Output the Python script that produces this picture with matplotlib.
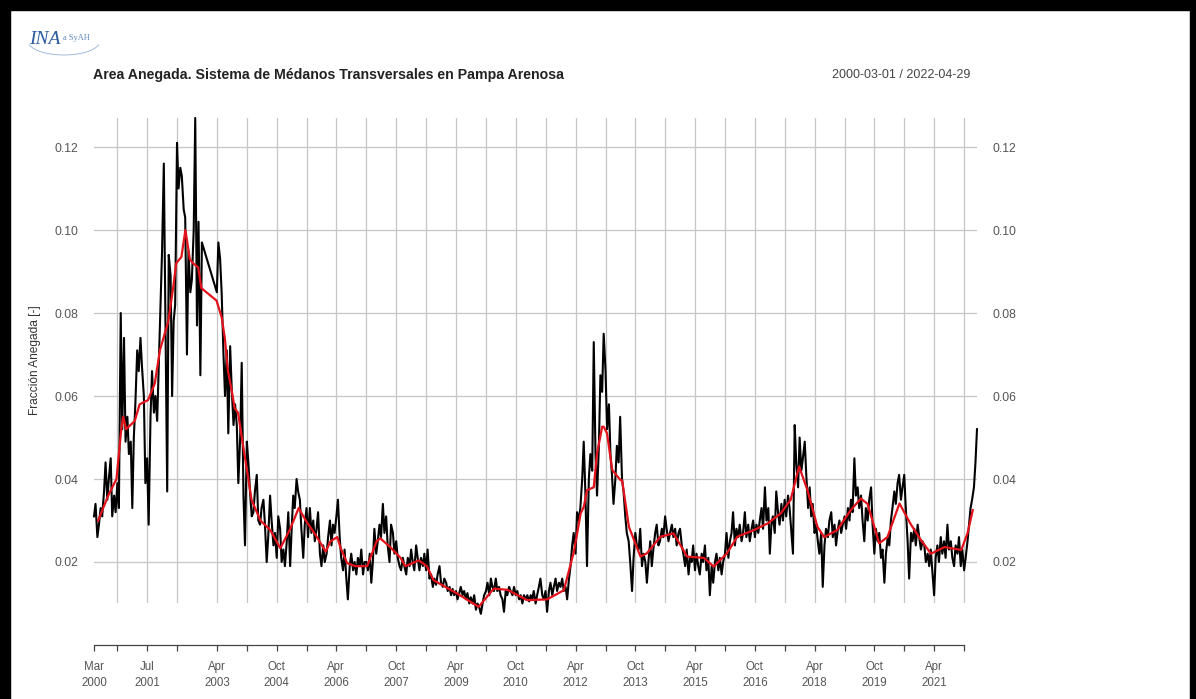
import numpy as np
import pandas as pd
import matplotlib
matplotlib.use('Agg')
import matplotlib.pyplot as plt
import matplotlib.dates as mdates
from matplotlib.patches import Rectangle, Arc

plt.rcParams['font.family'] = ['Liberation Sans', 'DejaVu Sans']

nan = np.nan

# fracción anegada, valores quincenales (1 y 15 de cada mes)
frac_2000 = [0.031, 0.034, 0.026, 0.029, 0.033, 0.031, 0.037, 0.044, 0.035, 0.040,
             0.045, 0.031, 0.036, 0.032, 0.039, 0.033, 0.080, 0.052, 0.074, 0.049]
frac_2001 = [0.055, 0.046, 0.049, 0.033, 0.050, 0.058, 0.071, 0.066, 0.074, 0.067, 0.060, 0.039,
             0.045, 0.029, 0.055, 0.066, 0.056, 0.060, 0.054, 0.067, 0.083, 0.095, 0.116, 0.081]
frac_2002 = [0.037, 0.094, 0.089, 0.060, 0.078, 0.082, 0.121, 0.110, 0.115, 0.113, 0.105, 0.103,
             0.070, 0.095, 0.085, 0.088, 0.100, 0.127, 0.077, 0.102, 0.065, 0.097, nan, nan]
frac_2003 = [nan, nan, nan, nan, nan, nan, 0.085, 0.097, 0.093, 0.085, 0.070, 0.060,
             0.071, 0.051, 0.072, 0.062, 0.053, 0.058, 0.053, 0.039, 0.050, 0.068, 0.036, 0.024]
frac_2004 = [0.049, 0.044, 0.036, 0.031, 0.032, 0.037, 0.041, 0.030, 0.029, 0.033, 0.035, 0.029,
             0.020, 0.026, 0.036, 0.030, 0.024, 0.027, 0.021, 0.031, 0.028, 0.020, 0.023, 0.019]
frac_2005 = [0.025, 0.032, 0.019, 0.028, 0.036, 0.033, 0.040, 0.037, 0.035, 0.028, 0.021, 0.029,
             0.033, 0.026, 0.033, 0.027, 0.030, 0.025, 0.028, 0.032, 0.022, 0.019, 0.024, 0.020]
frac_2006 = [0.022, 0.026, 0.030, 0.024, 0.029, 0.027, 0.031, 0.035, 0.026, 0.021, 0.018, 0.023,
             0.016, 0.011, 0.019, 0.022, 0.018, 0.020, 0.017, 0.021, 0.019, 0.023, 0.017, 0.020]
frac_2007 = [0.020, 0.018, 0.022, 0.015, 0.020, 0.028, 0.022, 0.025, 0.029, 0.026, 0.034, 0.027,
             0.031, 0.024, 0.020, 0.029, 0.027, 0.022, 0.025, 0.021, 0.019, 0.018, 0.021, 0.019]
frac_2008 = [0.017, 0.021, 0.019, 0.023, 0.020, 0.018, 0.024, 0.021, 0.018, 0.021, 0.019, 0.022,
             0.018, 0.023, 0.016, 0.017, 0.014, 0.016, 0.0145, 0.017, 0.019, 0.015, 0.014, 0.016]
frac_2009 = [0.015, 0.013, 0.014, 0.012, 0.0135, 0.012, 0.013, 0.011, 0.0125, 0.014, 0.012, 0.013,
             0.011, 0.0125, 0.010, 0.0115, 0.010, 0.012, 0.0085, 0.010, 0.009, 0.0075, 0.010, 0.012]
frac_2010 = [0.013, 0.015, 0.012, 0.016, 0.014, 0.013, 0.016, 0.013, 0.014, 0.012, 0.011, 0.008,
             0.013, 0.012, 0.014, 0.013, 0.012, 0.014, 0.012, 0.013, 0.011, 0.012, 0.010, 0.012]
frac_2011 = [0.011, 0.012, 0.0105, 0.012, 0.011, 0.013, 0.010, 0.012, 0.014, 0.016, 0.012, 0.011,
             0.013, 0.008, 0.013, 0.015, 0.012, 0.014, 0.016, 0.013, 0.015, 0.014, 0.016, 0.013]
frac_2012 = [0.014, 0.011, 0.016, 0.019, 0.024, 0.027, 0.022, 0.032, 0.030, 0.033, 0.040, 0.049,
             0.036, 0.019, 0.040, 0.046, 0.042, 0.073, 0.046, 0.036, 0.048, 0.065, 0.061, 0.075]
frac_2013 = [0.066, 0.052, 0.058, 0.046, 0.041, 0.034, 0.040, 0.048, 0.044, 0.055, 0.040, 0.037,
             0.031, 0.027, 0.025, 0.020, 0.013, 0.021, 0.027, 0.024, 0.023, 0.028, 0.019, 0.022]
frac_2014 = [0.020, 0.015, 0.021, 0.025, 0.019, 0.023, 0.027, 0.029, 0.024, 0.025, 0.028, 0.026,
             0.031, 0.028, 0.025, 0.027, 0.029, 0.026, 0.028, 0.024, 0.027, 0.028, 0.024, 0.022]
frac_2015 = [0.019, 0.023, 0.017, 0.021, 0.020, 0.024, 0.018, 0.022, 0.019, 0.017, 0.022, 0.020,
             0.024, 0.018, 0.021, 0.012, 0.019, 0.015, 0.020, 0.022, 0.018, 0.021, 0.017, 0.020]
frac_2016 = [0.022, 0.027, 0.021, 0.025, 0.027, 0.032, 0.024, 0.028, 0.026, 0.029, 0.025, 0.027,
             0.032, 0.026, 0.029, 0.025, 0.028, 0.030, 0.026, 0.029, 0.027, 0.030, 0.033, 0.028]
frac_2017 = [0.038, 0.030, 0.033, 0.022, 0.029, 0.031, 0.027, 0.037, 0.032, 0.029, 0.034, 0.030,
             0.035, 0.031, 0.036, 0.033, 0.027, 0.022, 0.053, 0.044, 0.038, 0.050, 0.042, 0.045]
frac_2018 = [0.049, 0.041, 0.033, 0.038, 0.031, 0.034, 0.027, 0.029, 0.025, 0.022, 0.027, 0.014,
             0.024, 0.028, 0.026, 0.030, 0.032, 0.026, 0.029, 0.024, 0.028, 0.030, 0.027, 0.029]
frac_2019 = [0.031, 0.028, 0.033, 0.030, 0.035, 0.032, 0.045, 0.036, 0.038, 0.033, 0.036, 0.030,
             0.025, 0.033, 0.030, 0.035, 0.038, 0.029, 0.022, 0.028, 0.025, 0.027, 0.021, 0.023]
frac_2020 = [0.015, 0.022, 0.026, 0.024, 0.030, 0.033, 0.037, 0.034, 0.039, 0.041, 0.035, 0.038,
             0.041, 0.033, 0.025, 0.016, 0.027, 0.025, 0.028, 0.024, 0.029, 0.026, 0.023, 0.025]
frac_2021 = [0.024, 0.020, 0.022, 0.019, 0.023, 0.018, 0.012, 0.021, 0.024, 0.020, 0.026, 0.022,
             0.025, 0.021, 0.029, 0.023, 0.025, 0.021, 0.019, 0.024, 0.022, 0.026, 0.019, 0.023]
frac_2022 = [0.018, 0.021, 0.025, 0.029, 0.033, 0.035, 0.038, 0.044, 0.052]

# media móvil (curva roja)
media_fechas = [
    '2000-04-08', '2000-07-09', '2000-09-23', '2000-11-06', '2000-11-24', '2000-12-20',
    '2001-03-10', '2001-04-23', '2001-07-09', '2001-09-09', '2001-10-26',
    '2002-01-11', '2002-02-24', '2002-03-25', '2002-05-11', '2002-06-17', '2002-07-27',
    '2002-08-25', '2002-10-12', '2002-11-10',
    '2003-03-29', '2003-05-15', '2003-06-13', '2003-07-12', '2003-08-14', '2003-09-12',
    '2003-10-12', '2003-11-28',
    '2004-01-15', '2004-02-13', '2004-05-04', '2004-08-03', '2004-11-03',
    '2005-02-02', '2005-04-20', '2005-06-24', '2005-09-23', '2005-12-24',
    '2006-02-06', '2006-04-09', '2006-05-08', '2006-07-09', '2006-09-23',
    '2007-01-08', '2007-04-05', '2007-05-08', '2007-08-07', '2007-11-10', '2007-12-24',
    '2008-02-09', '2008-04-26', '2008-07-08', '2008-09-08',
    '2009-04-12', '2009-10-26', '2010-03-14', '2010-07-16', '2011-01-15', '2011-07-16',
    '2011-12-16',
    '2012-03-17', '2012-05-18', '2012-06-16', '2012-07-15', '2012-09-15', '2012-10-14',
    '2012-12-01', '2012-12-15',
    '2013-01-15', '2013-03-03', '2013-05-19', '2013-06-02', '2013-08-03', '2013-11-17',
    '2014-01-15', '2014-05-19', '2014-09-16', '2015-01-19', '2015-06-21', '2015-09-20',
    '2016-01-19', '2016-04-23', '2016-09-23', '2017-01-26', '2017-05-26', '2017-08-25',
    '2017-11-10', '2018-01-26', '2018-04-27', '2018-06-28', '2018-10-26',
    '2019-02-27', '2019-05-30', '2019-07-31', '2019-11-14',
    '2020-01-29', '2020-05-18', '2020-09-01', '2020-12-01',
    '2021-03-03', '2021-07-05', '2021-12-06', '2022-02-02', '2022-03-21']
media_vals = [
    0.030, 0.036, 0.040, 0.052, 0.055, 0.052,
    0.054, 0.058, 0.059, 0.063, 0.071,
    0.078, 0.086, 0.092, 0.0935, 0.100, 0.093,
    0.092, 0.091, 0.086,
    0.083, 0.079, 0.074, 0.066, 0.0615, 0.057,
    0.056, 0.048,
    0.040, 0.035, 0.030, 0.0277, 0.0233,
    0.028, 0.033, 0.030, 0.0265, 0.0225,
    0.025, 0.026, 0.0235, 0.0197, 0.019,
    0.019, 0.025, 0.0257, 0.0236, 0.021, 0.019,
    0.0195, 0.0204, 0.019, 0.0156,
    0.0124, 0.0092, 0.0136, 0.0133, 0.0108, 0.011,
    0.0132,
    0.0225, 0.0317, 0.0333, 0.0373, 0.038, 0.046,
    0.0526, 0.0526,
    0.051, 0.0422, 0.0397, 0.0397, 0.0285, 0.0213,
    0.0221, 0.0261, 0.0269, 0.0213, 0.021, 0.0189,
    0.0221, 0.0261, 0.0277, 0.0293, 0.0317, 0.035,
    0.043, 0.0373, 0.0285, 0.026, 0.0277,
    0.0325, 0.0353, 0.034, 0.0245,
    0.026, 0.0341, 0.029, 0.0253,
    0.022, 0.0236, 0.0229, 0.027, 0.0325]

# ticks del eje de fechas
tick_fechas = ['2000-03-01', '2000-10-01', '2001-07-01', '2002-04-01', '2003-04-01',
               '2004-01-01', '2004-10-01', '2005-07-01', '2006-04-01', '2007-01-01',
               '2007-10-01', '2008-07-01', '2009-04-01', '2010-01-01', '2010-10-01',
               '2011-07-01', '2012-04-01', '2013-01-01', '2013-10-01', '2014-07-01',
               '2015-04-01', '2016-01-01', '2016-10-01', '2017-07-01', '2018-04-01',
               '2019-01-01', '2019-10-01', '2020-07-01', '2021-04-01', '2022-01-01']
tick_labels = ['Mar\n2000', '', 'Jul\n2001', '', 'Apr\n2003',
               '', 'Oct\n2004', '', 'Apr\n2006', '',
               'Oct\n2007', '', 'Apr\n2009', '', 'Oct\n2010',
               '', 'Apr\n2012', '', 'Oct\n2013', '',
               'Apr\n2015', '', 'Oct\n2016', '', 'Apr\n2018',
               '', 'Oct\n2019', '', 'Apr\n2021', '']

y_ticks = [0.02, 0.04, 0.06, 0.08, 0.10, 0.12]

fecha_ini = '2000-03-01'
fecha_fin = '2022-04-29'

# armar la serie
valores = (frac_2000 + frac_2001 + frac_2002 + frac_2003 + frac_2004 + frac_2005 + frac_2006
           + frac_2007 + frac_2008 + frac_2009 + frac_2010 + frac_2011 + frac_2012 + frac_2013
           + frac_2014 + frac_2015 + frac_2016 + frac_2017 + frac_2018 + frac_2019 + frac_2020
           + frac_2021 + frac_2022)
fechas = pd.date_range(fecha_ini, '2022-04-15', freq='SMS').append(pd.DatetimeIndex([fecha_fin]))
serie = pd.Series(valores, index=fechas).dropna()
media = pd.Series(media_vals, index=pd.to_datetime(media_fechas))
ticks = pd.to_datetime(tick_fechas)

W, H = 1196, 699
fig = plt.figure(figsize=(W / 100, H / 100), dpi=100)
ax = fig.add_axes([94 / W, 1 - 603 / H, (977 - 94) / W, (603 - 118) / H])

gris = '#555555'
grid_col = '#c6c6c6'

# grilla por debajo de las curvas
for v in y_ticks:
    ax.axhline(v, color=grid_col, lw=0.9, zorder=1)
for t in ticks[1:]:
    ax.axvline(t, color=grid_col, lw=0.9, zorder=1)

ax.plot(serie.index, serie.values, color='black', lw=1.5, zorder=3, clip_on=False)
ax.plot(media.index, media.values, color='#e3121b', lw=1.6, zorder=4, clip_on=False)

ax.set_xlim(pd.Timestamp(fecha_ini), pd.Timestamp(fecha_fin))
ax.set_ylim(0.01012, 0.12699)

for s in ['top', 'left', 'right']:
    ax.spines[s].set_visible(False)
ax.spines['bottom'].set_position(('outward', 30))
ax.spines['bottom'].set_bounds(mdates.date2num(ticks[0]), mdates.date2num(ticks[-1]))
ax.spines['bottom'].set_color('#444444')
ax.spines['bottom'].set_linewidth(0.9)

ax.set_xticks(ticks)
ax.set_xticklabels(tick_labels, linespacing=1.45)
ax.tick_params(axis='x', direction='out', length=4.5, width=0.9, color='#444444',
               labelsize=8.3, labelcolor=gris, pad=7.5)

ax.set_yticks(y_ticks)
ax.set_yticklabels([f'{v:.2f}' for v in y_ticks])
ax.tick_params(axis='y', length=0, labelsize=8.8, labelcolor=gris, pad=11,
               labelleft=True, labelright=True)

ax.set_ylabel('Fracción Anegada [-]', fontsize=8.6, color='#333333')
ax.yaxis.set_label_coords(-53 / 883, 0.5)

# encabezado
fig.text(93 / W, 1 - 75 / H, 'Area Anegada. Sistema de Médanos Transversales en Pampa Arenosa',
         fontsize=10.2, fontweight='bold', color='#222222', va='center')
fig.text(970 / W, 1 - 75 / H, '2000-03-01 / 2022-04-29', fontsize=9, color='#444444',
         va='center', ha='right')

# logo
fig.text(29 / W, 1 - 40 / H, 'INA', fontsize=14, style='italic', color='#2c5aa0',
         family='Liberation Serif', va='center')
fig.text(63 / W, 1 - 38 / H, 'a SyAH', fontsize=6, color='#5b8ac8',
         family='Liberation Serif', va='center')
fig.add_artist(Arc((64 / W, 1 - 41 / H), 72 / W, 28 / H, theta1=190, theta2=350,
                   color='#8fb0d8', lw=0.6, transform=fig.transFigure))

# marco negro
fig.add_artist(Rectangle((0, 1 - 10 / H), 1, 10 / H, color='black', transform=fig.transFigure))
fig.add_artist(Rectangle((0, 0), 10 / W, 1, color='black', transform=fig.transFigure))
fig.add_artist(Rectangle((1190 / W, 0), 6 / W, 1, color='black', transform=fig.transFigure))

fig.savefig('out.png', dpi=100)
